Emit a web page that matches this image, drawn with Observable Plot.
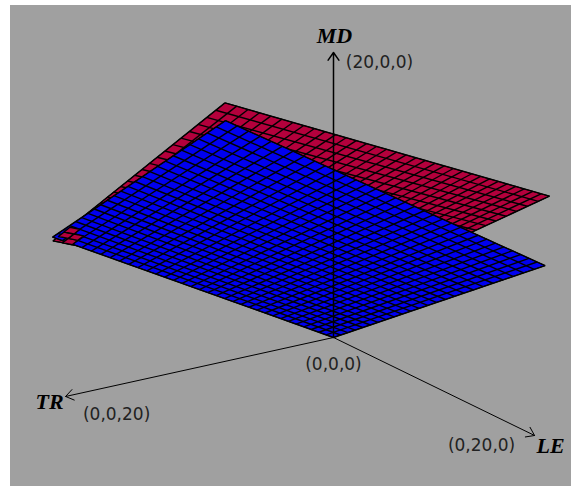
<!DOCTYPE html>
<html>
<head>
<meta charset="utf-8">
<script src="https://cdn.jsdelivr.net/npm/d3@7"></script>
<script src="https://cdn.jsdelivr.net/npm/@observablehq/plot@0.6"></script>
<style>
html,body{margin:0;padding:0;background:#fff;}
#chart{position:absolute;left:10px;top:5px;}
svg{display:block;}
</style>
</head>
<body>
<div id="chart"></div>
<script>
// Mesh nodes along each factor
const leNodes = [0,.83,1.67,2.5,3.33,4.17,5,5.83,6.67,7.5,8.33,9.17,10,10.83,11.67,12.5,13.33,14.17,15,15.83,16.67,17.5,18.33,19.17,20];
const trNodes = [0,.61,1.21,1.82,2.42,3.03,3.64,4.24,4.85,5.45,6.06,6.67,7.27,7.88,8.48,9.09,9.7,10.3,10.91,11.52,12.12,12.73,13.33,13.94,14.55,15.15,15.76,16.36,16.97,17.58,18.18,18.79,19.39,20];

// Blue surface: MD read along its four edges
const blueAtTR0  = [0,.45,.89,1.34,1.79,2.23,2.68,3.13,3.57,4.02,4.47,4.91,5.36,5.81,6.25,6.7,7.15,7.59,8.04,8.49,8.93,9.38,9.83,10.27,10.72];
const blueAtTR20 = [10.64,11.09,11.53,11.98,12.43,12.87,13.32,13.77,14.21,14.66,15.11,15.55,16,16.45,16.89,17.34,17.79,18.23,18.68,19.13,19.57,20.02,20.47,20.91,21.36];
const blueAtLE0  = [0,.32,.64,.97,1.29,1.61,1.93,2.26,2.58,2.9,3.22,3.55,3.87,4.19,4.51,4.84,5.16,5.48,5.8,6.13,6.45,6.77,7.09,7.42,7.74,8.06,8.38,8.71,9.03,9.35,9.67,9.99,10.32,10.64];
const blueAtLE20 = [10.72,11.04,11.36,11.69,12.01,12.33,12.65,12.98,13.3,13.62,13.94,14.27,14.59,14.91,15.23,15.56,15.88,16.2,16.52,16.85,17.17,17.49,17.81,18.14,18.46,18.78,19.1,19.43,19.75,20.07,20.39,20.71,21.04,21.36];

// Red surface: MD read along its four edges
const redAtTR0  = [3.1,3.59,4.08,4.56,5.05,5.54,6.03,6.51,7,7.49,7.98,8.46,8.95,9.44,9.93,10.41,10.9,11.39,11.88,12.36,12.85,13.34,13.83,14.31,14.8];
const redAtTR20 = [10.4,10.89,11.38,11.88,12.37,12.86,13.35,13.84,14.33,14.83,15.32,15.81,16.3,16.79,17.28,17.78,18.27,18.76,19.25,19.74,20.23,20.73,21.22,21.71,22.2];
const redAtLE0  = [3.1,3.32,3.54,3.76,3.98,4.21,4.43,4.65,4.87,5.09,5.31,5.53,5.75,5.98,6.2,6.42,6.64,6.86,7.08,7.3,7.52,7.75,7.97,8.19,8.41,8.63,8.85,9.07,9.29,9.52,9.74,9.96,10.18,10.4];
const redAtLE20 = [14.8,15.02,15.25,15.47,15.7,15.92,16.15,16.37,16.59,16.82,17.04,17.27,17.49,17.71,17.94,18.16,18.39,18.61,18.84,19.06,19.28,19.51,19.73,19.96,20.18,20.41,20.63,20.85,21.08,21.3,21.53,21.75,21.98,22.2];

// Red corner where it passes in front of the blue surface
const cornerLE = [0,.83,1.67,2.5,3.33];
const cornerTR = [18.79,19.39,20];
const cornerMD = [
  [9.96,10.45,10.94,11.44,11.93],
  [10.18,10.67,11.16,11.65,12.15],
  [10.4,10.89,11.38,11.88,12.37]
];
const cornerCells = [[0,0],[0,1],[1,1],[1,2]]; // [row, col]

// Axes
const axisMax = 20;
const axisNames = ["MD","LE","TR"];
const tipLabels = ["(20,0,0)","(0,20,0)","(0,0,20)"];
const originLabel = "(0,0,0)";

// Colours
const grey = "#a0a0a0", crimson = "#b4003c", blue = "#0000f0";

// Camera: homogeneous projection of (LE, TR, MD) on the picture plane
function project(le, tr, md) {
  const l = le / 20, t = tr / 20, m = md / 20;
  const w = 1 - 0.154 * l - 0.097 * t - 0.0788 * m;
  return {x: (170.1 * l - 241.9 * t) / w, y: (82.9 * l + 53.25 * t - 262.5 * m) / w};
}

function outline(atTR0, atLE20, atTR20, atLE0, name) {
  const p = [];
  leNodes.forEach((le, i) => p.push({...project(le, 0, atTR0[i]), name}));
  trNodes.forEach((tr, i) => p.push({...project(20, tr, atLE20[i]), name}));
  const nL = leNodes.length - 1, nT = trNodes.length - 1;
  [...leNodes].reverse().forEach((le, i) => p.push({...project(le, 20, atTR20[nL - i]), name}));
  [...trNodes].reverse().forEach((tr, i) => p.push({...project(0, tr, atLE0[nT - i]), name}));
  return p;
}
function meshLines(atTR0, atLE20, atTR20, atLE0) {
  const s = [];
  leNodes.forEach((le, i) => {
    const a = project(le, 0, atTR0[i]), b = project(le, 20, atTR20[i]);
    s.push({x1: a.x, y1: a.y, x2: b.x, y2: b.y});
  });
  trNodes.forEach((tr, i) => {
    const a = project(0, tr, atLE0[i]), b = project(20, tr, atLE20[i]);
    s.push({x1: a.x, y1: a.y, x2: b.x, y2: b.y});
  });
  return s;
}
const cornerPolys = cornerCells.flatMap(([r, c], id) =>
  [[r, c], [r, c + 1], [r + 1, c + 1], [r + 1, c], [r, c]].map(([a, b]) =>
    ({...project(cornerLE[b], cornerTR[a], cornerMD[a][b]), id})));

const o = project(0, 0, 0);
const tips = [project(0, 0, axisMax), project(axisMax, 0, 0), project(0, axisMax, 0)];
const axes = tips.map((p, i) => ({x1: o.x, y1: o.y, x2: p.x, y2: p.y, sw: i === 0 ? 1.5 : 1}));

const lineW = 1.4;
const meshStyle = {x1: "x1", y1: "y1", x2: "x2", y2: "y2", stroke: "#000", strokeWidth: lineW};
const serif = "'Liberation Serif', serif", sans = "'DejaVu Sans', sans-serif";
const nameStyle = {text: d => d, fontFamily: serif, fontWeight: "bold", fontStyle: "italic", fontSize: 22, fill: "#000"};
const tickStyle = {text: d => d, fontFamily: sans, fontSize: 17, fill: "#222"};

const plot = Plot.plot({
  width: 561, height: 481,
  margin: 0,
  style: {background: grey, display: "block"},
  x: {domain: [-323, 238], range: [0, 561], axis: null},
  y: {domain: [-332, 149], range: [0, 481], axis: null},
  marks: [
    Plot.line(outline(redAtTR0, redAtLE20, redAtTR20, redAtLE0, "red"), {x: "x", y: "y", z: "name", fill: crimson, stroke: "#000", strokeWidth: 1}),
    Plot.link(meshLines(redAtTR0, redAtLE20, redAtTR20, redAtLE0), meshStyle),
    Plot.line(outline(blueAtTR0, blueAtLE20, blueAtTR20, blueAtLE0, "blue"), {x: "x", y: "y", z: "name", fill: blue, stroke: "#000", strokeWidth: 1}),
    Plot.link(meshLines(blueAtTR0, blueAtLE20, blueAtTR20, blueAtLE0), meshStyle),
    Plot.line(cornerPolys, {x: "x", y: "y", z: "id", fill: crimson, stroke: "#000", strokeWidth: lineW}),
    Plot.arrow(axes, {x1: "x1", y1: "y1", x2: "x2", y2: "y2", stroke: "#000", strokeWidth: "sw", bend: 0, headLength: 14, headAngle: 70}),
    // axis names
    Plot.text([axisNames[0]], {...nameStyle, x: tips[0].x, y: tips[0].y, dx: 1, dy: -17}),
    Plot.text([axisNames[1]], {...nameStyle, x: tips[1].x, y: tips[1].y, dx: 16, dy: 10}),
    Plot.text([axisNames[2]], {...nameStyle, x: tips[2].x, y: tips[2].y, dx: -16, dy: 5}),
    // tip labels
    Plot.text([tipLabels[0]], {...tickStyle, x: tips[0].x, y: tips[0].y, dx: 46, dy: 10}),
    Plot.text([tipLabels[1]], {...tickStyle, x: tips[1].x, y: tips[1].y, dx: -53, dy: 10}),
    Plot.text([tipLabels[2]], {...tickStyle, x: tips[2].x, y: tips[2].y, dx: 51, dy: 18}),
    Plot.text([originLabel], {...tickStyle, x: o.x, y: o.y, dx: 0, dy: 27})
  ]
});
document.getElementById("chart").appendChild(plot);
</script>
</body>
</html>
